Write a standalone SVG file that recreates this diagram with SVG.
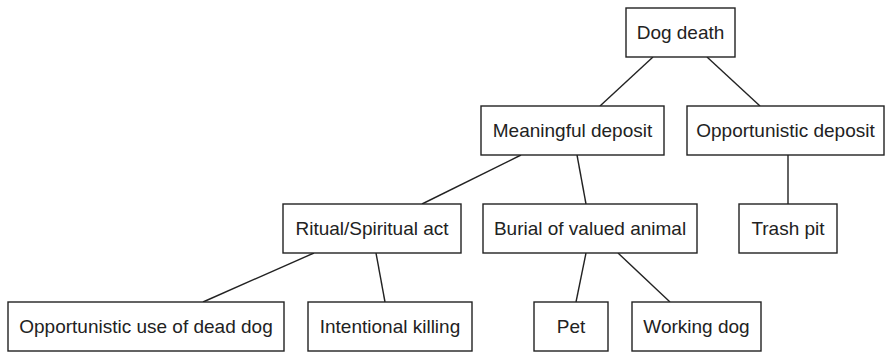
<svg xmlns="http://www.w3.org/2000/svg" width="886" height="352" viewBox="0 0 886 352">
<style>
rect{fill:#fff;stroke:#222;stroke-width:1.4}
line{stroke:#222;stroke-width:1.4}
text{font-family:"Liberation Sans",Arial,sans-serif;font-size:19px;fill:#222;text-anchor:middle}
</style>
<rect x="0" y="0" width="886" height="352" style="stroke:none"/>
<g id="connectors">
<line x1="653" y1="57" x2="600" y2="106"/>
<line x1="707" y1="57" x2="760" y2="106"/>
<line x1="788" y1="155" x2="788" y2="204"/>
<line x1="521" y1="155" x2="422" y2="204"/>
<line x1="577" y1="155" x2="586" y2="204"/>
<line x1="314" y1="253" x2="203" y2="302"/>
<line x1="376" y1="253" x2="385" y2="302"/>
<line x1="586" y1="253" x2="576" y2="302"/>
<line x1="618" y1="253" x2="670" y2="302"/>
</g>
<g id="dog-death"><rect x="626" y="8" width="109" height="49"/><text x="680.5" y="39">Dog death</text></g>
<g id="meaningful-deposit"><rect x="481" y="106" width="183" height="49"/><text x="572.5" y="137">Meaningful deposit</text></g>
<g id="opportunistic-deposit"><rect x="687" y="106" width="197" height="49"/><text x="785.5" y="137">Opportunistic deposit</text></g>
<g id="ritual"><rect x="283" y="204" width="178" height="49"/><text x="372" y="235">Ritual/Spiritual act</text></g>
<g id="burial"><rect x="483" y="204" width="214" height="49"/><text x="590" y="235">Burial of valued animal</text></g>
<g id="trash-pit"><rect x="739" y="204" width="98" height="49"/><text x="788" y="235">Trash pit</text></g>
<g id="opportunistic-use"><rect x="8" y="302" width="276" height="49"/><text x="146" y="333">Opportunistic use of dead dog</text></g>
<g id="intentional-killing"><rect x="308" y="302" width="164" height="49"/><text x="390" y="333">Intentional killing</text></g>
<g id="pet"><rect x="534" y="302" width="74" height="49"/><text x="571" y="333">Pet</text></g>
<g id="working-dog"><rect x="632" y="302" width="129" height="49"/><text x="696.5" y="333">Working dog</text></g>
</svg>
